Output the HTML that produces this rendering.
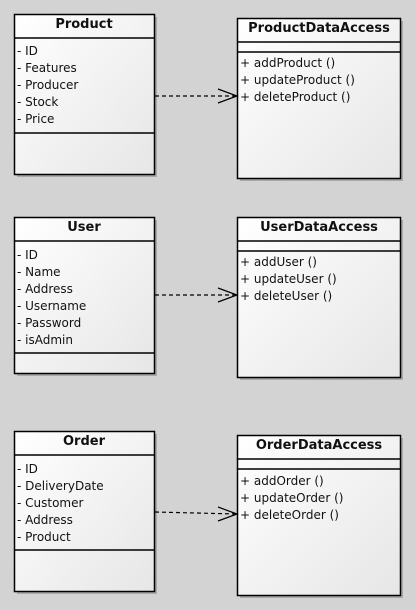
<!DOCTYPE html>
<html><head><meta charset="utf-8"><style>
html,body{margin:0;padding:0;background:#d3d3d3;}
svg{display:block;}
text{font-family:"DejaVu Sans","Liberation Sans",sans-serif;font-size:12px;fill:#111;}
.t{font-weight:bold;font-size:13px;}
</style></head><body>
<svg width="415" height="610" viewBox="0 0 415 610" xmlns="http://www.w3.org/2000/svg">
<defs>
<linearGradient id="g" x1="0" y1="0" x2="1" y2="1">
<stop offset="0" stop-color="#ffffff"/><stop offset="1" stop-color="#e6e6e6"/>
</linearGradient>
</defs>
<g stroke="#000" stroke-width="1.5">
<!-- shadows -->
<g fill="#a8a8a8" stroke="none">
<rect x="17" y="17" width="140" height="160"/>
<rect x="240" y="21" width="163" height="160"/>
<rect x="17" y="220" width="140" height="156"/>
<rect x="240" y="220" width="163" height="160"/>
<rect x="17" y="434" width="140" height="160"/>
<rect x="240" y="438" width="163" height="160"/>
</g>
<rect x="14.5" y="14.5" width="140" height="160" fill="url(#g)"/>
<line x1="14" y1="38" x2="155" y2="38"/><line x1="14" y1="133" x2="155" y2="133"/>
<rect x="237.5" y="18.5" width="163" height="160" fill="url(#g)"/>
<line x1="237" y1="42" x2="401" y2="42"/><line x1="237" y1="52" x2="401" y2="52"/>
<rect x="14.5" y="217.5" width="140" height="156" fill="url(#g)"/>
<line x1="14" y1="241" x2="155" y2="241"/><line x1="14" y1="353" x2="155" y2="353"/>
<rect x="237.5" y="217.5" width="163" height="160" fill="url(#g)"/>
<line x1="237" y1="241" x2="401" y2="241"/><line x1="237" y1="251" x2="401" y2="251"/>
<rect x="14.5" y="431.5" width="140" height="160" fill="url(#g)"/>
<line x1="14" y1="455" x2="155" y2="455"/><line x1="14" y1="550" x2="155" y2="550"/>
<rect x="237.5" y="435.5" width="163" height="160" fill="url(#g)"/>
<line x1="237" y1="459" x2="401" y2="459"/><line x1="237" y1="469" x2="401" y2="469"/>
</g>
<g stroke="#000" stroke-width="1.2" fill="none">
<line x1="155" y1="96" x2="236" y2="96" stroke-dasharray="4,3"/>
<polyline points="218,89 237,96 218,103"/>
<line x1="155" y1="295" x2="236" y2="295" stroke-dasharray="4,3"/>
<polyline points="218,288 237,295 218,302"/>
<line x1="155" y1="512" x2="236" y2="514" stroke-dasharray="4,3"/>
<polyline points="218,507 237,514 218,521"/>
</g>
<text class="t" x="84" y="28" text-anchor="middle">Product</text>
<text x="17" y="55">- ID</text><text x="17" y="72">- Features</text><text x="17" y="89">- Producer</text><text x="17" y="106">- Stock</text><text x="17" y="123">- Price</text>
<text class="t" x="319" y="32" text-anchor="middle">ProductDataAccess</text>
<text x="240" y="67">+ addProduct ()</text><text x="240" y="84">+ updateProduct ()</text><text x="240" y="101">+ deleteProduct ()</text>
<text class="t" x="84" y="231" text-anchor="middle">User</text>
<text x="17" y="259">- ID</text><text x="17" y="276">- Name</text><text x="17" y="293">- Address</text><text x="17" y="310">- Username</text><text x="17" y="327">- Password</text><text x="17" y="344">- isAdmin</text>
<text class="t" x="319" y="231" text-anchor="middle">UserDataAccess</text>
<text x="240" y="266">+ addUser ()</text><text x="240" y="283">+ updateUser ()</text><text x="240" y="300">+ deleteUser ()</text>
<text class="t" x="84" y="445" text-anchor="middle">Order</text>
<text x="17" y="473">- ID</text><text x="17" y="490">- DeliveryDate</text><text x="17" y="507">- Customer</text><text x="17" y="524">- Address</text><text x="17" y="541">- Product</text>
<text class="t" x="319" y="449" text-anchor="middle">OrderDataAccess</text>
<text x="240" y="485">+ addOrder ()</text><text x="240" y="502">+ updateOrder ()</text><text x="240" y="519">+ deleteOrder ()</text>
</svg>
</body></html>
